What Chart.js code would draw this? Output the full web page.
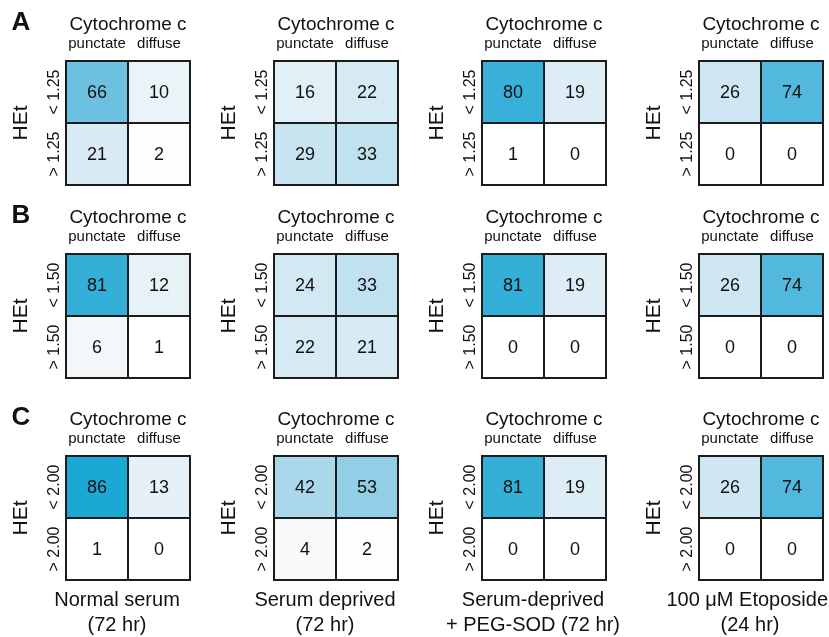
<!DOCTYPE html>
<html>
<head>
<meta charset="utf-8">
<script src="https://cdn.jsdelivr.net/npm/chart.js@4.4.1/dist/chart.umd.min.js"></script>
<style>
  html, body { margin: 0; padding: 0; background: #ffffff; }
  #fig { position: relative; width: 829px; height: 637px; overflow: hidden; background: #ffffff; }
  #fig canvas { position: absolute; }
</style>
</head>
<body>
<div id="fig"></div>
<script>
// ---- data ----
const panelLetters = ['A', 'B', 'C'];
const hetThresholds = ['1.25', '1.50', '2.00'];
const cytoCategories = ['punctate', 'diffuse'];
const conditionLabels = [
  ['Normal serum', '(72 hr)'],
  ['Serum deprived', '(72 hr)'],
  ['Serum-deprived', '+ PEG-SOD (72 hr)'],
  ['100 \u03BCM Etoposide', '(24 hr)']
];
// percent of cells; per condition: [HEt below threshold row, HEt above threshold row]
const valuesA = [
  [[66, 10], [21, 2]],
  [[16, 22], [29, 33]],
  [[80, 19], [1, 0]],
  [[26, 74], [0, 0]]
];
const valuesB = [
  [[81, 12], [6, 1]],
  [[24, 33], [22, 21]],
  [[81, 19], [0, 0]],
  [[26, 74], [0, 0]]
];
const valuesC = [
  [[86, 13], [1, 0]],
  [[42, 53], [4, 2]],
  [[81, 19], [0, 0]],
  [[26, 74], [0, 0]]
];
const panelValues = [valuesA, valuesB, valuesC];

// ---- styling ----
const FONT = '"Liberation Sans", Arial, Helvetica, sans-serif';
const INK = '#111111';
const EDGE = '#1c1c1c';
// white -> cyan-blue ramp keyed by percentage
const rampStops = [
  [0, [255, 255, 255]], [2, [254, 254, 254]], [4, [248, 249, 250]], [6, [243, 247, 250]],
  [10, [234, 243, 248]], [16, [225, 239, 246]], [22, [214, 234, 244]], [33, [192, 225, 240]],
  [42, [170, 216, 235]], [53, [146, 207, 231]], [66, [108, 193, 224]], [74, [82, 184, 221]],
  [81, [52, 175, 216]], [86, [28, 168, 212]], [100, [10, 150, 200]]
];
function rampColor(v) {
  for (let i = 1; i < rampStops.length; i++) {
    const [v1, c1] = rampStops[i];
    const [v0, c0] = rampStops[i - 1];
    if (v <= v1) {
      const t = (v - v0) / (v1 - v0);
      const c = c0.map((a, k) => Math.round(a + (c1[k] - a) * t));
      return `rgb(${c[0]},${c[1]},${c[2]})`;
    }
  }
  const c = rampStops[rampStops.length - 1][1];
  return `rgb(${c[0]},${c[1]},${c[2]})`;
}

// ---- layout of the panel grid ----
const FIG_W = 829, FIG_H = 637;
const boxLefts = [66, 274, 482, 699];
const boxTops = [61, 254, 456];
const BOX_W = 124, BOX_H = 124;
const PAD_L = 66, PAD_T = 61;

// text around each matrix: title, column labels, row labels, axis name, letter, condition
const panelDecor = {
  id: 'panelDecor',
  afterDatasetsDraw(chart, args, opts) {
    const { ctx, chartArea: a } = chart;
    const xs = chart.scales.x, ys = chart.scales.y;
    const cx = (a.left + a.right) / 2;
    const cyBox = (a.top + a.bottom) / 2;
    ctx.save();
    ctx.fillStyle = INK;

    // numbers inside the cells
    ctx.font = `18px ${FONT}`;
    ctx.textAlign = 'center';
    ctx.textBaseline = 'middle';
    chart.data.datasets.forEach((ds, di) => {
      const meta = chart.getDatasetMeta(di);
      meta.data.forEach((bar, i) => {
        ctx.fillText(String(ds.cellValues[i]), bar.x, (bar.y + bar.base) / 2 + 1);
      });
    });

    // outer frame
    ctx.lineWidth = 2;
    ctx.strokeStyle = EDGE;
    ctx.strokeRect(a.left, a.top, a.right - a.left, a.bottom - a.top);

    // title and column categories
    ctx.textBaseline = 'alphabetic';
    ctx.font = `19px ${FONT}`;
    ctx.fillText(opts.title, cx, a.top - 31);
    ctx.font = `15px ${FONT}`;
    opts.columns.forEach((lab, i) => {
      ctx.fillText(lab, xs.getPixelForValue(i), a.top - 13);
    });

    // rotated row labels and axis name
    ctx.textBaseline = 'middle';
    ctx.font = `16px ${FONT}`;
    opts.rows.forEach((lab, r) => {
      const y = ys.getPixelForValue(opts.rows.length - r - 0.5);
      ctx.save();
      ctx.translate(a.left - 11, y);
      ctx.rotate(-Math.PI / 2);
      ctx.fillText(lab, 0, 0);
      ctx.restore();
    });
    ctx.font = `21px ${FONT}`;
    ctx.save();
    ctx.translate(a.left - 45, cyBox);
    ctx.rotate(-Math.PI / 2);
    ctx.fillText(opts.axisName, 0, 0);
    ctx.restore();

    // panel letter
    if (opts.letter) {
      ctx.textBaseline = 'alphabetic';
      ctx.font = `bold 26px ${FONT}`;
      ctx.fillText(opts.letter, a.left - 45, a.top - 31);
    }

    // condition label under the matrix
    if (opts.condition) {
      ctx.textBaseline = 'alphabetic';
      ctx.font = `20px ${FONT}`;
      const baselines = [a.bottom + 26, a.bottom + 51];
      opts.condition.forEach((line, k) => {
        const w = ctx.measureText(line).width;
        let x = cx - 11;
        x = Math.min(x, chart.width - w / 2 - 1);
        ctx.fillText(line, x, baselines[k]);
      });
    }
    ctx.restore();
  }
};

const fig = document.getElementById('fig');
const rowTopsCanvas = boxTops.map(t => t - PAD_T);

panelValues.forEach((rowValues, r) => {
  const rowLabels = ['< ' + hetThresholds[r], '> ' + hetThresholds[r]];
  const cTop = rowTopsCanvas[r];
  const cBottom = r + 1 < rowTopsCanvas.length ? rowTopsCanvas[r + 1] : FIG_H;
  const cH = cBottom - cTop;

  rowValues.forEach((matrix, c) => {
    const cLeft = boxLefts[c] - PAD_L;
    const cRight = c + 1 < boxLefts.length ? boxLefts[c + 1] - PAD_L : FIG_W;
    const cW = cRight - cLeft;

    const canvas = document.createElement('canvas');
    canvas.width = cW;
    canvas.height = cH;
    canvas.style.left = cLeft + 'px';
    canvas.style.top = cTop + 'px';
    canvas.style.width = cW + 'px';
    canvas.style.height = cH + 'px';
    fig.appendChild(canvas);

    const nRows = matrix.length;
    // one floating-bar dataset per HEt row; each bar spans its row band
    const datasets = matrix.map((rowVals, ri) => ({
      label: rowLabels[ri],
      data: rowVals.map(() => [nRows - ri - 1, nRows - ri]),
      cellValues: rowVals,
      backgroundColor: rowVals.map(rampColor),
      borderColor: EDGE,
      borderWidth: 1,
      borderSkipped: false,
      barPercentage: 1,
      categoryPercentage: 1,
      grouped: false,
      inflateAmount: 0
    }));

    new Chart(canvas, {
      type: 'bar',
      data: { labels: cytoCategories, datasets },
      options: {
        responsive: false,
        animation: false,
        devicePixelRatio: 1,
        layout: {
          padding: { left: PAD_L, top: PAD_T, right: cW - PAD_L - BOX_W, bottom: cH - PAD_T - BOX_H }
        },
        scales: {
          x: { type: 'category', display: false, offset: true },
          y: { type: 'linear', display: false, min: 0, max: nRows }
        },
        plugins: {
          legend: { display: false },
          tooltip: { enabled: false },
          panelDecor: {
            title: 'Cytochrome c',
            columns: cytoCategories,
            rows: rowLabels,
            axisName: 'HEt',
            letter: c === 0 ? panelLetters[r] : null,
            condition: r === panelValues.length - 1 ? conditionLabels[c] : null
          }
        }
      },
      plugins: [panelDecor]
    });
  });
});
</script>
</body>
</html>
